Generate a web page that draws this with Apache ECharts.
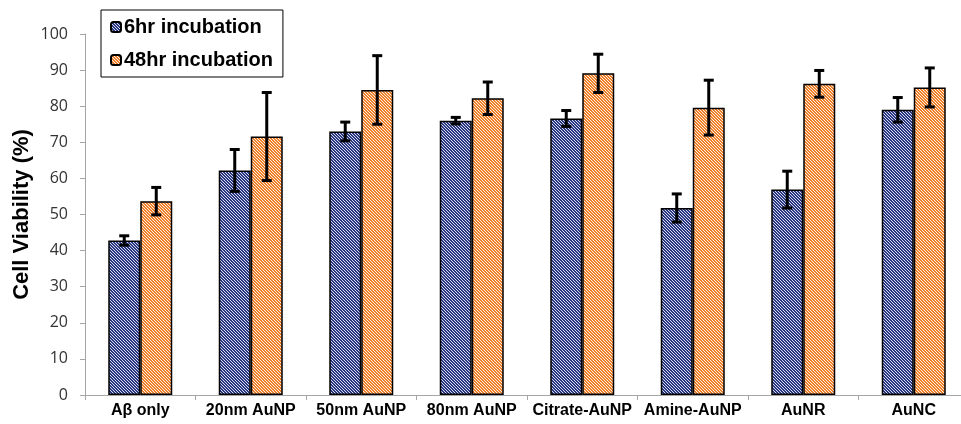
<!DOCTYPE html>
<html>
<head>
<meta charset="utf-8">
<script src="https://cdn.jsdelivr.net/npm/echarts@6/dist/echarts.min.js"></script>
<style>
  html, body { margin: 0; padding: 0; background: #fff; overflow: hidden; }
  #chart { width: 970px; height: 424px; }
</style>
</head>
<body>
<div id="chart"></div>
<script>
// Treatment groups
const categories = ['Aβ only', '20nm AuNP', '50nm AuNP', '80nm AuNP', 'Citrate-AuNP', 'Amine-AuNP', 'AuNR', 'AuNC'];
// Mean cell viability (%)
const viability6hr  = [42.8, 62.2, 73.0, 76.0, 76.6, 51.8, 56.9, 79.0];
const viability48hr = [53.7, 71.6, 84.5, 82.2, 89.1, 79.6, 86.2, 85.2];
// Standard deviations
const sd6hr  = [1.3, 5.8, 2.6, 0.9, 2.2, 3.9, 5.1, 3.4];
const sd48hr = [3.8, 12.2, 9.5, 4.5, 5.3, 7.6, 3.7, 5.4];
// Y axis ticks
const yTicks = [0, 10, 20, 30, 40, 50, 60, 70, 80, 90, 100];

// Diagonal hatch fill built on a small canvas tile (3px period)
function hatch(line, back) {
  const c = document.createElement('canvas');
  c.width = 3; c.height = 3;
  const g = c.getContext('2d');
  g.fillStyle = back;
  g.fillRect(0, 0, 3, 3);
  g.fillStyle = line;
  for (let i = 0; i < 3; i++) {
    g.fillRect(i, i, 1, 1);
    g.fillRect((i + 1) % 3, i, 1, 1);
  }
  return { image: c, repeat: 'repeat' };
}

const BAR_W = 32;

function errorSeries(name, means, sds, shift) {
  const data = means.map((m, i) => [i, m - sds[i], m + sds[i]]);
  return {
    name: name + ' err',
    type: 'custom',
    z: 10,
    silent: true,
    data: data,
    encode: { x: 0, y: [1, 2] },
    renderItem: function (params, api) {
      const i = api.value(0);
      const lo = api.coord([i, api.value(1)]);
      const hi = api.coord([i, api.value(2)]);
      const x = lo[0] + shift;
      const cap = 5;
      const style = { stroke: '#000', lineWidth: 3 };
      return {
        type: 'group',
        children: [
          { type: 'line', shape: { x1: x, y1: hi[1], x2: x, y2: lo[1] }, style: style },
          { type: 'line', shape: { x1: x - cap, y1: hi[1], x2: x + cap, y2: hi[1] }, style: style },
          { type: 'line', shape: { x1: x - cap, y1: lo[1], x2: x + cap, y2: lo[1] }, style: style }
        ]
      };
    }
  };
}

const chart = echarts.init(document.getElementById('chart'), null, { renderer: 'canvas' });

const blueFill = hatch('#2a3680', '#d8dcf2');
const orangeFill = hatch('#f07f2a', '#fff0e2');

chart.setOption({
  animation: false,
  backgroundColor: '#fff',
  grid: { left: 85, right: 1, top: 34, bottom: 29, containLabel: false },
  legend: {
    orient: 'vertical',
    left: 101,
    top: 10,
    padding: [7, 10, 7, 9],
    itemGap: 13,
    itemWidth: 10,
    itemHeight: 10,
    borderColor: '#000',
    borderWidth: 1,
    backgroundColor: '#fff',
    data: ['6hr incubation', '48hr incubation'],
    textStyle: { fontFamily: 'Liberation Sans, Arial, sans-serif', fontWeight: 'bold', fontSize: 20, color: '#000', padding: [0, 0, 0, -2] }
  },
  xAxis: {
    type: 'category',
    data: categories,
    axisLine: { lineStyle: { color: '#a6a6a6', width: 1 } },
    axisTick: { show: true, length: 5, lineStyle: { color: '#a6a6a6' } },
    axisLabel: {
      margin: 8,
      fontFamily: 'Liberation Sans, Arial, sans-serif',
      fontWeight: 'bold',
      fontSize: 16,
      color: '#000',
      interval: 0
    }
  },
  yAxis: {
    type: 'value',
    min: yTicks[0],
    max: yTicks[yTicks.length - 1],
    interval: 10,
    name: 'Cell Viability (%)',
    nameLocation: 'middle',
    nameGap: 52,
    nameMoveOverlap: false,
    nameTextStyle: { fontFamily: 'Liberation Sans, Arial, sans-serif', fontWeight: 'bold', fontSize: 22, color: '#000' },
    axisLine: { show: true, lineStyle: { color: '#a6a6a6', width: 1 } },
    axisTick: { show: true, length: 5, lineStyle: { color: '#a6a6a6' } },
    splitLine: { show: false },
    axisLabel: {
      margin: 17,
      fontFamily: 'Open Sans, Noto Sans, sans-serif',
      fontSize: 16,
      color: '#333'
    }
  },
  series: [
    {
      name: '6hr incubation',
      type: 'bar',
      data: viability6hr,
      barWidth: BAR_W,
      barGap: '0%',
      itemStyle: { color: blueFill, borderColor: '#000', borderWidth: 1.5 }
    },
    {
      name: '48hr incubation',
      type: 'bar',
      data: viability48hr,
      barWidth: BAR_W,
      barGap: '0%',
      itemStyle: { color: orangeFill, borderColor: '#000', borderWidth: 1.5 }
    },
    errorSeries('6hr incubation', viability6hr, sd6hr, -BAR_W / 2),
    errorSeries('48hr incubation', viability48hr, sd48hr, BAR_W / 2)
  ]
});
</script>
</body>
</html>
